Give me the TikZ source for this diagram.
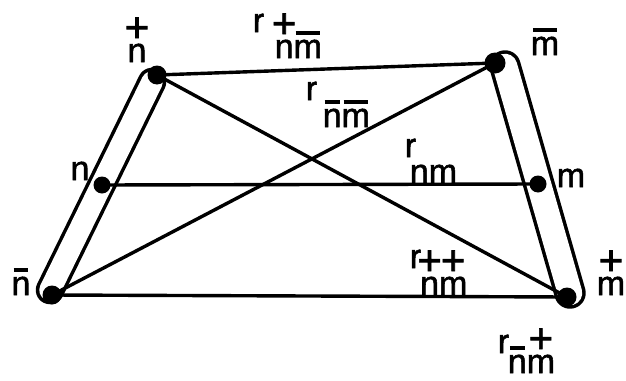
\documentclass[tikz,border=0pt]{standalone}
\usepackage{fontspec}
\setmainfont{Liberation Sans}[BoldFont={Liberation Sans},BoldFeatures={FakeBold=1.6}]
\newsavebox\lbox
\newcommand\plusover[1]{\sbox\lbox{#1}\vbox{\offinterlineskip\hbox to\wd\lbox{\hss\fontsize{42}{42}\selectfont+\hss}\kern2pt\copy\lbox}}
\newcommand\barover[1]{\sbox\lbox{#1}\vbox{\offinterlineskip\hbox to\wd\lbox{\hss\vrule width\dimexpr\wd\lbox-4pt\relax height3.5pt depth0pt\hss}\kern5pt\copy\lbox}}
\tikzset{
  conn/.style={line width=3.4pt},
  dot/.style={circle,fill=black,inner sep=0pt,minimum size=#1},
  dot/.default=17pt,
  lbl/.style={anchor=base,inner sep=0pt,font=\fontsize{34}{36}\selectfont\bfseries},
  rlbl/.style={anchor=base west,inner sep=0pt,font=\fontsize{34}{36}\selectfont\bfseries},
}
\begin{document}
\begin{tikzpicture}[x=1pt,y=-1pt]
\useasboundingbox (0,0) rectangle (626,380);
% capsules
\coordinate (cl1) at (50,290);
\coordinate (cl2) at (152,82);
\coordinate (cr1) at (570,293);
\coordinate (cr2) at (505,66);
\draw[line width=28.5pt,line cap=round] (cl1) -- (cl2);
\draw[white,line width=21.5pt,line cap=round] (cl1) -- (cl2);
\draw[line width=31.5pt,line cap=round] (cr1) -- (cr2);
\draw[white,line width=24.5pt,line cap=round] (cr1) -- (cr2);
% dots
\node[dot=19pt] (np) at (157,75) {};
\node[dot=21pt] (mb) at (495,63) {};
\node[dot=17pt] (n) at (102,185) {};
\node[dot=17pt] (m) at (538,184) {};
\node[dot=19pt] (nb) at (52,295) {};
\node[dot=19pt] (mp) at (567,297) {};
% connectors
\draw[conn] (np.center) -- (mb.center);
\draw[conn] (np.center) -- (mp.center);
\draw[conn] (nb.center) -- (mb.center);
\draw[conn] (n.center) -- (m.center);
\draw[conn] (nb.center) -- (mp.center);
% point labels
\node[lbl] (Ln1) at (137,62) {\plusover{n}};
\node[lbl] (Ln2) at (80,180) {n};
\node[lbl] (Ln3) at (21,295) {\barover{n}};
\node[lbl] (Lm1) at (545,55) {\barover{m}};
\node[lbl] (Lm2) at (571,187) {m};
\node[lbl] (Lm3) at (611,295) {\plusover{m}};
% distance labels
\node[rlbl] (R1) at (252.6,32) {r\kern10.6pt\raisebox{-26pt}{\plusover{n}\barover{m}}};
\node[rlbl] (R2) at (305.6,100) {r\kern5.6pt\raisebox{-27pt}{\barover{n}\barover{m}}};
\node[rlbl] (R3) at (404.6,157) {r\kern-6.3pt\raisebox{-26pt}{nm}};
\node[rlbl] (R4) at (409.6,268) {r\kern-1pt\raisebox{-27pt}{\plusover{n}\plusover{m}}};
\node[rlbl] (R5) at (497.6,353) {r\kern-1.3pt\raisebox{-20pt}{\barover{n}\plusover{m}}};
\end{tikzpicture}
\end{document}
